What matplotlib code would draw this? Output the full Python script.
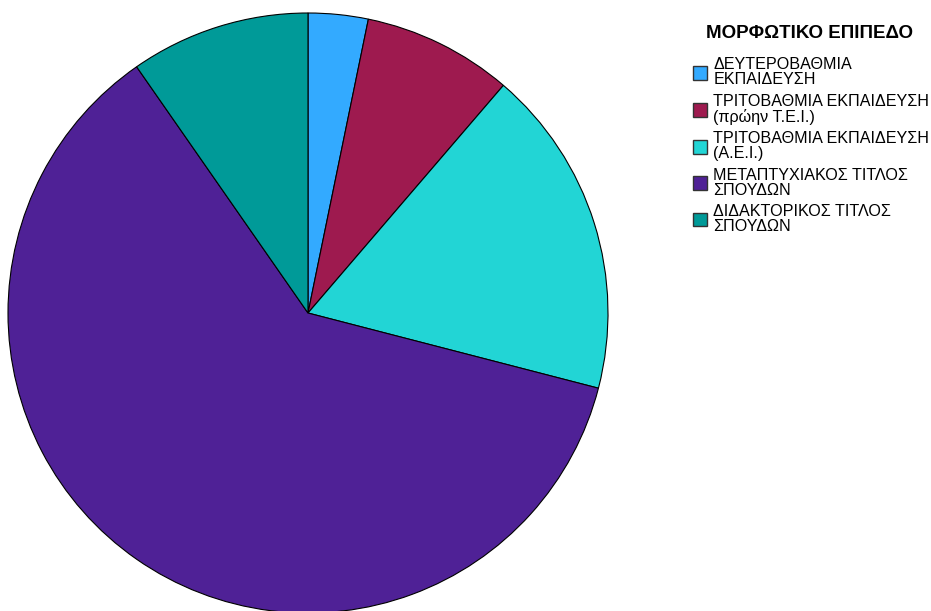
import matplotlib.pyplot as plt

# Data (counts)
labels = ["ΔΕΥΤΕΡΟΒΑΘΜΙΑ\nΕΚΠΑΙΔΕΥΣΗ",
          "ΤΡΙΤΟΒΑΘΜΙΑ ΕΚΠΑΙΔΕΥΣΗ\n(πρώην Τ.Ε.Ι.)",
          "ΤΡΙΤΟΒΑΘΜΙΑ ΕΚΠΑΙΔΕΥΣΗ\n(Α.Ε.Ι.)",
          "ΜΕΤΑΠΤΥΧΙΑΚΟΣ ΤΙΤΛΟΣ\nΣΠΟΥΔΩΝ",
          "ΔΙΔΑΚΤΟΡΙΚΟΣ ΤΙΤΛΟΣ\nΣΠΟΥΔΩΝ"]
values = [2, 5, 11, 38, 6]
colors = ["#33AAFF", "#9E1A4F", "#22D5D5", "#4F2196", "#009A98"]
legend_title = "ΜΟΡΦΩΤΙΚΟ ΕΠΙΠΕΔΟ"

plt.rcParams['font.family'] = ['Liberation Sans', 'DejaVu Sans']

fig = plt.figure(figsize=(9.31, 6.11), dpi=100)
ax = fig.add_axes([8/931, -2/611, 600/931, 600/611])

wedges, _ = ax.pie(values, colors=colors, startangle=90, counterclock=False,
                   wedgeprops=dict(edgecolor="black", linewidth=0.8))
ax.set_xlim(-1.0, 1.0)
ax.set_ylim(-1.0, 1.0)
ax.set_aspect('equal')

# legend title as separate text for finer placement
fig.text(809/931, 1 - 38/611, legend_title, ha='center', va='baseline',
         fontsize=13.5, fontweight='bold')

leg = fig.legend(wedges, labels, loc='upper left',
                 bbox_to_anchor=(682/931, 1 - 46/611), frameon=False,
                 fontsize=11.6, handlelength=0.85, handleheight=0.95,
                 handletextpad=0.4, labelspacing=0.4, borderpad=0.2)
for t in leg.get_texts():
    t.set_linespacing(1.0)
for p in leg.get_patches():
    p.set_edgecolor("#333333")
    p.set_linewidth(1.0)

fig.savefig("out.png", dpi=100)
